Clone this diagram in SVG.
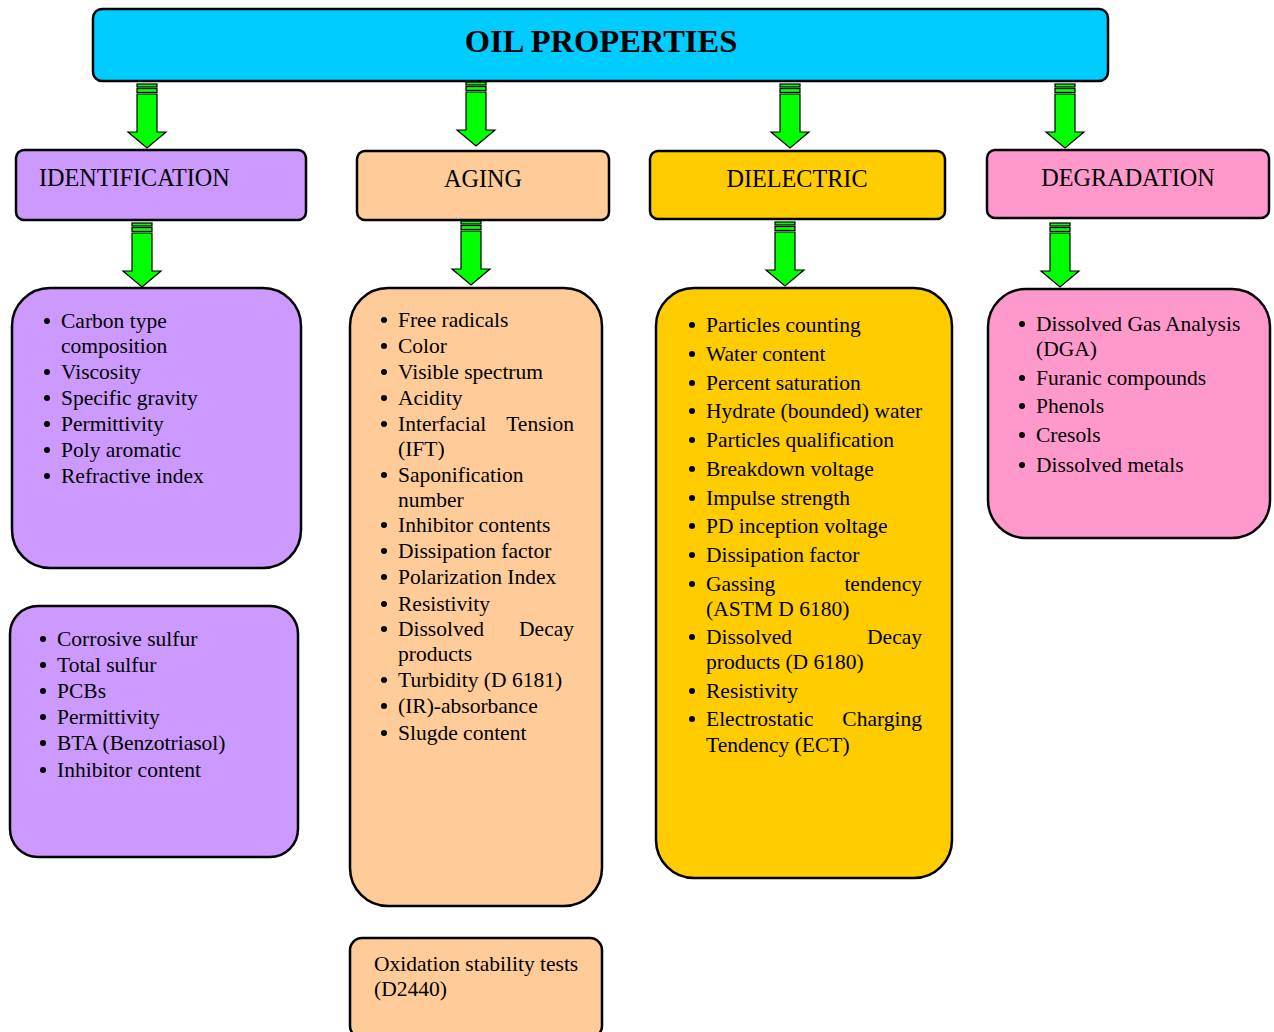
<svg xmlns="http://www.w3.org/2000/svg" width="1274" height="1032" viewBox="0 0 1274 1032">
<style>
.box{stroke:#000;stroke-width:2.5}
.t{font-family:"Liberation Serif","Times New Roman",serif;font-size:21.5px;fill:#000}
.h{font-family:"Liberation Serif","Times New Roman",serif;font-size:24.2px;fill:#000}
.ti{font-family:"Liberation Serif","Times New Roman",serif;font-size:32.5px;font-weight:bold;fill:#000}
.arr{fill:#00FF00;stroke:#000;stroke-width:1.2}
.b{fill:#000}
</style>
<defs>
<g id="arrow">
<rect class="arr" x="-10" y="0" width="20" height="3"/>
<rect class="arr" x="-10" y="4.5" width="20" height="4"/>
<path class="arr" d="M-10 10 L10 10 L10 48 L19 48 L0 64 L-19 48 L-10 48 Z"/>
</g>
</defs>
<rect width="1274" height="1032" fill="#fff"/>
<g id="connectors">
<use href="#arrow" x="147" y="84"/>
<use href="#arrow" x="476" y="82"/>
<use href="#arrow" x="790" y="84"/>
<use href="#arrow" x="1065" y="84"/>
<use href="#arrow" x="142" y="223"/>
<use href="#arrow" x="471" y="221"/>
<use href="#arrow" x="785" y="222"/>
<use href="#arrow" x="1060" y="223"/>
</g>
<g id="title">
<rect class="box" x="93" y="9" width="1015" height="72" rx="9" fill="#00CCFF"/>
<text class="ti" x="601" y="52" text-anchor="middle">OIL PROPERTIES</text>
</g>
<g id="identification">
<rect class="box" x="16" y="150" width="290" height="70" rx="8" fill="#CC99FF"/>
<text class="h" x="39" y="186">IDENTIFICATION</text>
</g>
<g id="aging">
<rect class="box" x="357" y="151" width="252" height="69" rx="8" fill="#FFCC99"/>
<text class="h" x="483" y="187" text-anchor="middle">AGING</text>
</g>
<g id="dielectric">
<rect class="box" x="650" y="151" width="295" height="68" rx="8" fill="#FFCC00"/>
<text class="h" x="797" y="187" text-anchor="middle">DIELECTRIC</text>
</g>
<g id="degradation">
<rect class="box" x="987" y="150" width="282" height="68" rx="8" fill="#FF99CC"/>
<text class="h" x="1128" y="186" text-anchor="middle">DEGRADATION</text>
</g>
<g id="id-list1">
<rect class="box" x="12" y="288" width="289" height="280" rx="38" fill="#CC99FF"/>
<g class="b">
<circle cx="47" cy="321" r="3"/><circle cx="47" cy="372" r="3"/><circle cx="47" cy="398" r="3"/><circle cx="47" cy="424" r="3"/><circle cx="47" cy="450" r="3"/><circle cx="47" cy="476" r="3"/>
</g>
<text class="t" x="61" y="328">Carbon type</text>
<text class="t" x="61" y="353">composition</text>
<text class="t" x="61" y="379">Viscosity</text>
<text class="t" x="61" y="405">Specific gravity</text>
<text class="t" x="61" y="431">Permittivity</text>
<text class="t" x="61" y="457">Poly aromatic</text>
<text class="t" x="61" y="483">Refractive index</text>
</g>
<g id="id-list2">
<rect class="box" x="10" y="606" width="288" height="251" rx="28" fill="#CC99FF"/>
<g class="b">
<circle cx="43" cy="639" r="3"/><circle cx="43" cy="665" r="3"/><circle cx="43" cy="691" r="3"/><circle cx="43" cy="717" r="3"/><circle cx="43" cy="743" r="3"/><circle cx="43" cy="770" r="3"/>
</g>
<text class="t" x="57" y="646">Corrosive sulfur</text>
<text class="t" x="57" y="672">Total sulfur</text>
<text class="t" x="57" y="698">PCBs</text>
<text class="t" x="57" y="724">Permittivity</text>
<text class="t" x="57" y="750">BTA (Benzotriasol)</text>
<text class="t" x="57" y="777">Inhibitor content</text>
</g>
<g id="aging-list">
<rect class="box" x="350" y="288" width="252" height="618" rx="38" fill="#FFCC99"/>
<g class="b">
<circle cx="384" cy="320" r="3"/><circle cx="384" cy="346" r="3"/><circle cx="384" cy="372" r="3"/><circle cx="384" cy="398" r="3"/><circle cx="384" cy="424" r="3"/><circle cx="384" cy="475" r="3"/><circle cx="384" cy="525" r="3"/><circle cx="384" cy="551" r="3"/><circle cx="384" cy="577" r="3"/><circle cx="384" cy="604" r="3"/><circle cx="384" cy="629" r="3"/><circle cx="384" cy="680" r="3"/><circle cx="384" cy="706" r="3"/><circle cx="384" cy="733" r="3"/>
</g>
<text class="t" x="398" y="327">Free radicals</text>
<text class="t" x="398" y="353">Color</text>
<text class="t" x="398" y="379">Visible spectrum</text>
<text class="t" x="398" y="405">Acidity</text>
<text class="t" y="431"><tspan x="398">Interfacial</tspan><tspan x="574" text-anchor="end">Tension</tspan></text>
<text class="t" x="398" y="456">(IFT)</text>
<text class="t" x="398" y="482">Saponification</text>
<text class="t" x="398" y="507">number</text>
<text class="t" x="398" y="532">Inhibitor contents</text>
<text class="t" x="398" y="558">Dissipation factor</text>
<text class="t" x="398" y="584">Polarization Index</text>
<text class="t" x="398" y="611">Resistivity</text>
<text class="t" y="636"><tspan x="398">Dissolved</tspan><tspan x="574" text-anchor="end">Decay</tspan></text>
<text class="t" x="398" y="661">products</text>
<text class="t" x="398" y="687">Turbidity (D 6181)</text>
<text class="t" x="398" y="713">(IR)-absorbance</text>
<text class="t" x="398" y="740">Slugde content</text>
</g>
<g id="oxidation">
<rect class="box" x="350" y="938" width="252" height="100" rx="12" fill="#FFCC99"/>
<text class="t" x="374" y="971">Oxidation stability tests</text>
<text class="t" x="374" y="996">(D2440)</text>
</g>
<g id="dielectric-list">
<rect class="box" x="656" y="288" width="296" height="590" rx="38" fill="#FFCC00"/>
<g class="b">
<circle cx="692" cy="325" r="3"/><circle cx="692" cy="354" r="3"/><circle cx="692" cy="383" r="3"/><circle cx="692" cy="411" r="3"/><circle cx="692" cy="440" r="3"/><circle cx="692" cy="469" r="3"/><circle cx="692" cy="498" r="3"/><circle cx="692" cy="526" r="3"/><circle cx="692" cy="555" r="3"/><circle cx="692" cy="584" r="3"/><circle cx="692" cy="637" r="3"/><circle cx="692" cy="691" r="3"/><circle cx="692" cy="719" r="3"/>
</g>
<text class="t" x="706" y="332">Particles counting</text>
<text class="t" x="706" y="361">Water content</text>
<text class="t" x="706" y="390">Percent saturation</text>
<text class="t" x="706" y="418">Hydrate (bounded) water</text>
<text class="t" x="706" y="447">Particles qualification</text>
<text class="t" x="706" y="476">Breakdown voltage</text>
<text class="t" x="706" y="505">Impulse strength</text>
<text class="t" x="706" y="533">PD inception voltage</text>
<text class="t" x="706" y="562">Dissipation factor</text>
<text class="t" y="591"><tspan x="706">Gassing</tspan><tspan x="922" text-anchor="end">tendency</tspan></text>
<text class="t" x="706" y="616">(ASTM D 6180)</text>
<text class="t" y="644"><tspan x="706">Dissolved</tspan><tspan x="922" text-anchor="end">Decay</tspan></text>
<text class="t" x="706" y="669">products (D 6180)</text>
<text class="t" x="706" y="698">Resistivity</text>
<text class="t" y="726"><tspan x="706">Electrostatic</tspan><tspan x="922" text-anchor="end">Charging</tspan></text>
<text class="t" x="706" y="752">Tendency (ECT)</text>
</g>
<g id="degradation-list">
<rect class="box" x="988" y="289" width="282" height="249" rx="38" fill="#FF99CC"/>
<g class="b">
<circle cx="1022" cy="324" r="3"/><circle cx="1022" cy="378" r="3"/><circle cx="1022" cy="406" r="3"/><circle cx="1022" cy="435" r="3"/><circle cx="1022" cy="465" r="3"/>
</g>
<text class="t" x="1036" y="331">Dissolved Gas Analysis</text>
<text class="t" x="1036" y="356">(DGA)</text>
<text class="t" x="1036" y="385">Furanic compounds</text>
<text class="t" x="1036" y="413">Phenols</text>
<text class="t" x="1036" y="442">Cresols</text>
<text class="t" x="1036" y="472">Dissolved metals</text>
</g>
</svg>
